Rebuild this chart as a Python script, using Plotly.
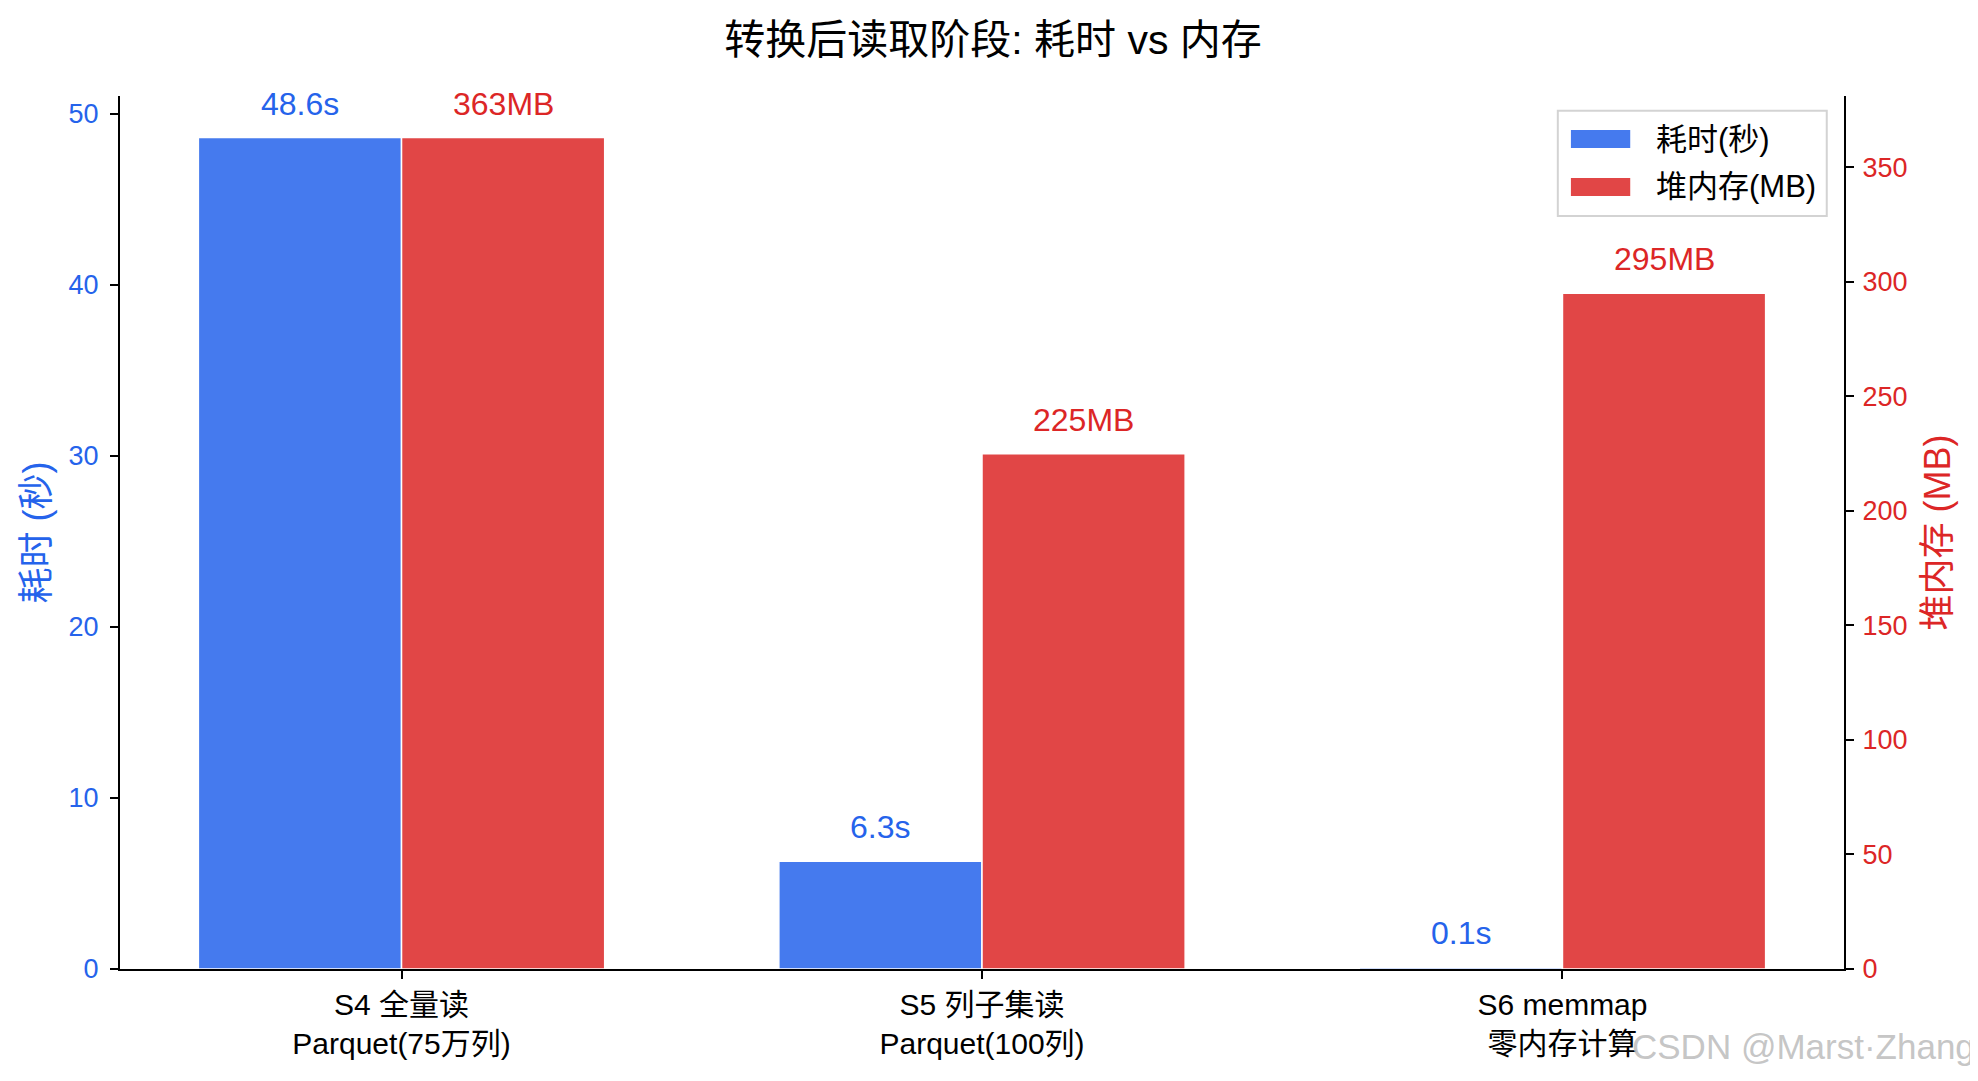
import plotly.graph_objects as go

# 数据
categories = ["S4 全量读<br>Parquet(75万列)", "S5 列子集读<br>Parquet(100列)", "S6 memmap<br>零内存计算"]
time_s = [48.6, 6.3, 0.1]
heap_mb = [363, 225, 295]
time_labels = ["48.6s", "6.3s", "0.1s"]
heap_labels = ["363MB", "225MB", "295MB"]
series_names = ["耗时(秒)", "堆内存(MB)"]

BLUE = "#2563EB"
RED = "#DC2626"
BLUE_BAR = "rgba(37,99,235,0.85)"
RED_BAR = "rgba(220,38,38,0.85)"
FONT = "Liberation Sans, Noto Sans CJK SC, sans-serif"

fig = go.Figure()

fig.add_trace(go.Bar(x=categories, y=time_s, name=series_names[0],
                     marker=dict(color=BLUE_BAR, line=dict(color="white", width=1.5)),
                     offsetgroup="t", yaxis="y"))
fig.add_trace(go.Bar(x=categories, y=heap_mb, name=series_names[1],
                     marker=dict(color=RED_BAR, line=dict(color="white", width=1.5)),
                     offsetgroup="m", yaxis="y2"))

# 柱顶数值标注
for i, (v, t) in enumerate(zip(time_s, time_labels)):
    fig.add_annotation(x=i - 0.175, y=v, xref="x", yref="y", text=t, showarrow=False,
                       yanchor="bottom", yshift=14, font=dict(size=32, color=BLUE))
for i, (v, t) in enumerate(zip(heap_mb, heap_labels)):
    fig.add_annotation(x=i + 0.175, y=v, xref="x", yref="y2", text=t, showarrow=False,
                       yanchor="bottom", yshift=14, font=dict(size=32, color=RED))

# 图例（matplotlib 风格：宽色块 + 边框）
fig.add_shape(type="rect", xref="paper", yref="paper", x0=0.834, x1=0.990, y0=0.8625, y1=0.983,
              line=dict(color="#d3d3d3", width=2), fillcolor="white", layer="above")
for name, col, y0, y1, ty in [(series_names[0], BLUE_BAR, 0.9404, 0.961, 0.9507),
                              (series_names[1], RED_BAR, 0.8855, 0.906, 0.8958)]:
    fig.add_shape(type="rect", xref="paper", yref="paper", x0=0.8416, x1=0.876, y0=y0, y1=y1,
                  line=dict(width=0), fillcolor=col, layer="above")
    fig.add_annotation(text=name, xref="paper", yref="paper", x=0.890, y=ty,
                       xanchor="left", yanchor="middle", showarrow=False,
                       font=dict(size=31, color="black"))

# 水印
fig.add_annotation(text="CSDN @Marst·Zhang", xref="paper", yref="paper", x=1.077, y=-0.0893,
                   xanchor="right", yanchor="middle", showarrow=False,
                   font=dict(size=35, color="rgba(190,190,190,0.9)"))

fig.update_layout(
    width=1970, height=1073,
    paper_bgcolor="white", plot_bgcolor="white",
    font=dict(family=FONT, size=27, color="black"),
    title=dict(text="转换后读取阶段: 耗时 vs 内存", x=0.5, xanchor="center",
               y=1 - 32 / 1073, yanchor="middle", yref="container",
               font=dict(size=41, color="black")),
    margin=dict(l=112, r=134, t=88, b=112),
    barmode="group", bargap=0.3, bargroupgap=0,
    showlegend=False,
    xaxis=dict(type="category", range=[-0.485, 2.485], showline=True, linecolor="black",
               linewidth=2, ticks="outside", ticklen=8, tickwidth=1.5, tickcolor="black",
               showgrid=False, tickfont=dict(size=30, color="black")),
    yaxis=dict(range=[0, 51.03], dtick=10, showline=True, linecolor="black", linewidth=2,
               ticks="outside", ticklen=8, tickwidth=2, tickcolor="black", showgrid=False,
               zeroline=False, tickfont=dict(size=27, color=BLUE), ticklabelstandoff=6,
               title=dict(text="耗时 (秒)", font=dict(size=36, color=BLUE), standoff=8)),
    yaxis2=dict(range=[0, 381.15], dtick=50, overlaying="y", side="right", showline=True,
                linecolor="black", linewidth=2, ticks="outside", ticklen=8, tickwidth=2,
                tickcolor="black", showgrid=False, zeroline=False,
                tickfont=dict(size=27, color=RED), ticklabelstandoff=3,
                title=dict(text="堆内存 (MB)", font=dict(size=36, color=RED), standoff=18)),
)

fig.write_html("out.html")
